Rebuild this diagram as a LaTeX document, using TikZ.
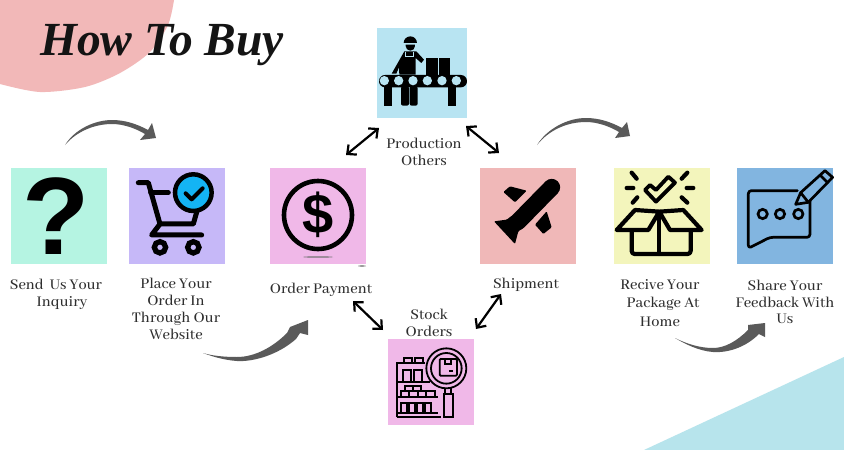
\documentclass[tikz,border=0pt]{standalone}
\usepackage{fontspec}
\setmainfont{Abhaya Libre Medium}
\newfontfamily\titlefont{Liberation Serif}
\newfontfamily\glyphfont{Liberation Sans}
\usetikzlibrary{calc,arrows.meta}

\definecolor{blushpink}{HTML}{F2B8B8}
\definecolor{palecyan}{HTML}{B7E4EC}
\definecolor{mintbox}{HTML}{B5F4E2}
\definecolor{lilacbox}{HTML}{C6B8F8}
\definecolor{orchidbox}{HTML}{F0B8E8}
\definecolor{skybox}{HTML}{B8E4F2}
\definecolor{rosebox}{HTML}{F0B8B8}
\definecolor{lemonbox}{HTML}{F3F5BC}
\definecolor{bluebox}{HTML}{82B5E0}
\definecolor{carttick}{HTML}{14B4F4}
\definecolor{swooshgrey}{HTML}{5A5A5A}
\definecolor{labelink}{HTML}{2E2E2E}

\begin{document}
\begin{tikzpicture}[x=1pt,y=-1pt]
     \tikzstyle{stepbox}=[draw=none,outer sep=0pt,inner sep=0pt,minimum width=96pt,minimum height=96pt,anchor=north west]
     \tikzstyle{steplabel}=[align=center,text=labelink,font=\fontsize{16.3}{16.8}\selectfont,inner sep=0pt]
     \tikzstyle{twoway}=[line width=2.2pt,{Straight Barb[length=7pt,width=13pt]}-{Straight Barb[length=7pt,width=13pt]}]
     \tikzstyle{swoosh}=[fill=swooshgrey,draw=none]
     \tikzstyle{zoomed}=[x=0.3333pt,y=-0.3333pt]
     \tikzstyle{iconline}=[line width=#1,line cap=round,line join=round]

     \useasboundingbox (0,0) rectangle (844,450);
     \fill[white] (0,0) rectangle (844,450);

     % backdrop shapes
     \fill[blushpink] (0,0) -- plot[smooth] coordinates {(174,0) (168,25) (150,52) (120,73) (85,87) (40,92) (0,84)} -- cycle;
     \fill[palecyan] (644,450) -- (844,357) -- (844,450) -- cycle;
     \node[font=\titlefont\bfseries\itshape\fontsize{47.5}{47.5}\selectfont,text=black!92,inner sep=0pt] (title) at (162,45) {How To Buy};

     % step boxes
     \node[stepbox,fill=mintbox] (send) at (11,168) {};
     \node[stepbox,fill=lilacbox] (place) at (129,168) {};
     \node[stepbox,fill=orchidbox] (pay) at (270,168) {};
     \node[stepbox,fill=skybox,minimum width=90pt,minimum height=90pt] (prod) at (377,28) {};
     \node[stepbox,fill=rosebox] (ship) at (480,168) {};
     \node[stepbox,fill=orchidbox,minimum width=86pt,minimum height=86pt] (stock) at (388,339) {};
     \node[stepbox,fill=lemonbox] (recv) at (614,168) {};
     \node[stepbox,fill=bluebox] (share) at (737,168) {};

     % labels
     \node[steplabel] (sendtxt) at ($(send.south)+(-3,30)$) {Send\ \ Us Your\\\hspace*{12pt}Inquiry};
     \node[steplabel] (placetxt) at ($(place.south)+(-1,45)$) {Place Your\\Order In\\Through Our\\Website};
     \node[steplabel] (paytxt) at ($(pay.south)+(3,26)$) {Order Payment};
     \node[steplabel] (prodtxt) at ($(prod.south)+(2,34)$) {Production\\Others};
     \node[steplabel] (shiptxt) at ($(ship.south)+(-2,21)$) {Shipment};
     \node[steplabel] (stocktxt) at ($(stock.north)+(-2,-16)$) {Stock\\Orders};
     \node[steplabel,font=\fontsize{16.3}{18.4}\selectfont] (recvtxt) at ($(recv.south)+(-2,39)$) {Recive Your\\\hspace*{6pt}Package At\\Home};
     \node[steplabel] (sharetxt) at ($(share.south)+(0,38)$) {Share Your\\Feedback With\\Us};

     % two way arrows round the production and stock steps
     \draw[twoway] ($(pay.north)+(28,-13)$) -- ($(prod.south west)+(2,10)$);
     \draw[twoway] ($(prod.south east)+(-1,8)$) -- ($(ship.north)+(-29,-15)$);
     \draw[twoway] ($(pay.south)+(35,37)$) -- ($(stock.north west)+(-5,-9)$);
     \draw[twoway] ($(stock.north east)+(2,-10)$) -- ($(ship.south)+(-27,30)$);

     % grey swooshes
     \coordinate (swooshA) at ($(send.north)+(6,-23)$);
     \coordinate (swooshB) at ($(place.south)+(26,89)$);
     \coordinate (swooshC) at ($(ship.north)+(9,-23)$);
     \coordinate (swooshD) at ($(recv.south)+(13,74)$);
     \fill[swoosh,shift={(swooshA)}] (0,0) .. controls (10,-16) and (30,-25) .. (47,-25)
          .. controls (60,-25) and (72,-21) .. (83,-15) -- (87,-22) -- (91,-7) -- (75,-5) -- (80,-11)
          .. controls (70,-17) and (58,-21) .. (47,-21) .. controls (30,-21) and (12,-14) .. cycle;
     \fill[swoosh,shift={(swooshC)}] (0,0) .. controls (10,-16) and (30,-27) .. (49,-27)
          .. controls (62,-27) and (74,-23) .. (85,-17) -- (90,-23) -- (93,-9) -- (78,-7) -- (82,-13)
          .. controls (72,-19) and (60,-23) .. (49,-23) .. controls (30,-23) and (12,-15) .. cycle;
     \fill[swoosh,shift={(swooshB)}] (0,0) .. controls (10,3) and (22,4) .. (34,4)
          .. controls (52,4) and (70,-6) .. (84,-20) -- (87,-26) -- (105,-33) -- (105,-18) -- (97,-20) -- (93,-14)
          .. controls (75,2) and (50,9) .. (34,8) .. controls (20,7) and (8,3) .. cycle;
     \fill[swoosh,shift={(swooshD)}] (0,0) .. controls (12,6) and (25,10) .. (38,10)
          .. controls (50,10) and (62,3) .. (73,-8) -- (73,-13) -- (90,-15) -- (90,-1) -- (84,-4)
          .. controls (70,10) and (52,15) .. (38,14) .. controls (24,13) and (10,6) .. cycle;

     % question mark
     \node[font=\glyphfont\bfseries\fontsize{110}{110}\selectfont,inner sep=0pt] (qmark) at ($(send.center)+(-3,0)$) {?};

     % cart
     \begin{scope}[shift={(0,100)},zoomed]
       \draw[iconline=5pt] (415,248) -- (445,248) -- (480,372) -- (455,405) -- (605,405);
       \draw[iconline=5pt] (452,278) -- (505,278);
       \draw[iconline=5pt] (480,372) -- (580,372) -- (592,330);
       \draw[line width=5.3pt] (480,442) circle (17);
       \draw[line width=5.3pt] (580,442) circle (17);
       \draw[line width=4.5pt,fill=carttick] (580,278) circle (55);
       \draw[iconline=4pt] (557,280) -- (575,298) -- (608,265);
     \end{scope}

     % dollar
     \draw[line width=4.6pt] ($(pay.center)+(0,-1)$) circle (34);
     \node[font=\glyphfont\bfseries\fontsize{56}{56}\selectfont,inner sep=0pt] (dollar) at ($(pay.center)+(0,-1)$) {\$};
     \fill[black!55] ($(pay.center)+(0,41)$) ellipse (15 and 0.7);
     \fill[black!60] ($(pay.south east)+(-4,2)$) ellipse (4 and 0.6);

     % conveyor and worker
     \begin{scope}[shift={(377,28)},zoomed]
       \fill (80,45) arc (180:360:20) -- cycle;
       \fill (86,50) -- (114,50) -- (114,54) arc (0:180:14) -- cycle;
       \fill (82,70) -- (118,70) -- (141,95) -- (133,105) -- (116,90) -- (116,140) -- (67,140) -- (66,118) -- (58,137) -- (44,137) -- cycle;
       \draw[skybox,line width=0.8pt] (86,71) -- (86,85) -- (108,85) -- (108,71);
       \fill (147,90) rectangle (182,140);
       \fill (185,90) rectangle (220,140);
       \fill[rounded corners=6pt] (6,141) rectangle (270,178);
       \foreach \rollx in {22,65,108,151,195,238}
         \fill[skybox] (\rollx,158) circle (14);
       \fill (20,175) rectangle (46,233);
       \fill (212,175) rectangle (237,233);
       \fill[rounded corners=2pt] (72,175) rectangle (96,233);
       \fill[rounded corners=2pt] (98,175) rectangle (122,233);
     \end{scope}

     % plane
     \begin{scope}[shift={(480,168)},zoomed]
       \draw[line width=17pt,line cap=round] (215,58) -- (115,160);
       \fill[rounded corners=1pt] (42,160) -- (105,228) -- (115,190) -- (133,178) -- (97,142) -- (80,155) -- cycle;
       \fill[rounded corners=1pt] (70,72) -- (90,55) -- (140,68) -- (105,103) -- cycle;
       \fill[rounded corners=1pt] (165,170) -- (200,130) -- (215,178) -- (190,198) -- cycle;
     \end{scope}

     % stock shelves and magnifier
     \begin{scope}[shift={(388,339)},zoomed,line width=1.8pt]
       \draw (28,235) -- (28,72) -- (112,72);
       \draw (28,128) -- (125,128);
       \draw (28,175) -- (150,175);
       \draw (28,235) -- (160,235);
       \draw (28,222) -- (150,222);
       \foreach \shelfx in {48,80}
         \draw (\shelfx,72) -- (\shelfx,57) -- ++(24,0) -- ++(0,15);
       \foreach \shelfx in {46,78}
         \draw (\shelfx,128) -- (\shelfx,92) -- ++(24,0) -- ++(0,36);
       \draw (50,157) -- (50,140) -- (100,140) -- (100,157) (75,140) -- (75,157);
       \draw (38,175) -- (38,157) -- (140,157) -- (140,175) (63,157) -- (63,175) (89,157) -- (89,175) (114,157) -- (114,175);
       \foreach \shelfx in {38,64,88,112}
         \draw (\shelfx,222) -- (\shelfx,192) -- ++(18,0) -- ++(0,30);
       \fill[orchidbox] (175,88) circle (60);
       \draw (175,88) circle (60);
       \draw (175,88) circle (46);
       \draw[rounded corners=1pt] (155,60) rectangle (207,110);
       \draw (170,60) -- (170,75) -- (190,75) -- (190,60);
       \draw (183,97) -- (195,97);
       \draw (172,148) -- (172,165) (190,148) -- (190,165);
       \fill[orchidbox] (168,165) rectangle (195,235);
       \draw (168,235) -- (168,165) -- (195,165) -- (195,235) -- cycle;
     \end{scope}

     % opened package
     \begin{scope}[shift={(600,160)},zoomed]
       \draw[iconline=4.2pt] (95,38) -- (110,56) (80,84) -- (100,84) (98,128) -- (112,112);
       \draw[iconline=4.2pt] (262,38) -- (245,56) (260,84) -- (280,84) (245,112) -- (262,128);
       \draw[iconline=3.8pt] (135,90) -- (150,75) -- (168,90) -- (205,50) -- (225,68) -- (168,125) -- cycle;
       \draw[iconline=4.2pt] (178,155) -- (105,150) -- (50,210) -- (145,210) -- (178,155) -- (250,150) -- (305,210) -- (210,210) -- cycle;
       \draw[iconline=4.2pt,rounded corners=3pt] (95,212) -- (95,282) -- (272,282) -- (272,212);
       \draw[iconline=4.2pt] (178,155) -- (178,282);
     \end{scope}

     % speech bubble and pencil
     \begin{scope}[shift={(600,160)},zoomed]
       \draw[iconline=2.7pt,rounded corners=3pt] (592,92) -- (445,92) -- (445,265) -- (510,232) -- (630,232) -- (630,122);
       \foreach \dotx in {488,540,595}
         \draw[line width=2.7pt] (\dotx,162) circle (14);
       \draw[iconline=2.7pt] (587,133) -- (602,98) -- (675,32) -- (698,52) -- (625,127) -- cycle;
       \draw[iconline=2.7pt] (602,98) -- (625,127) (660,45) -- (682,67);
     \end{scope}
\end{tikzpicture}
\end{document}
